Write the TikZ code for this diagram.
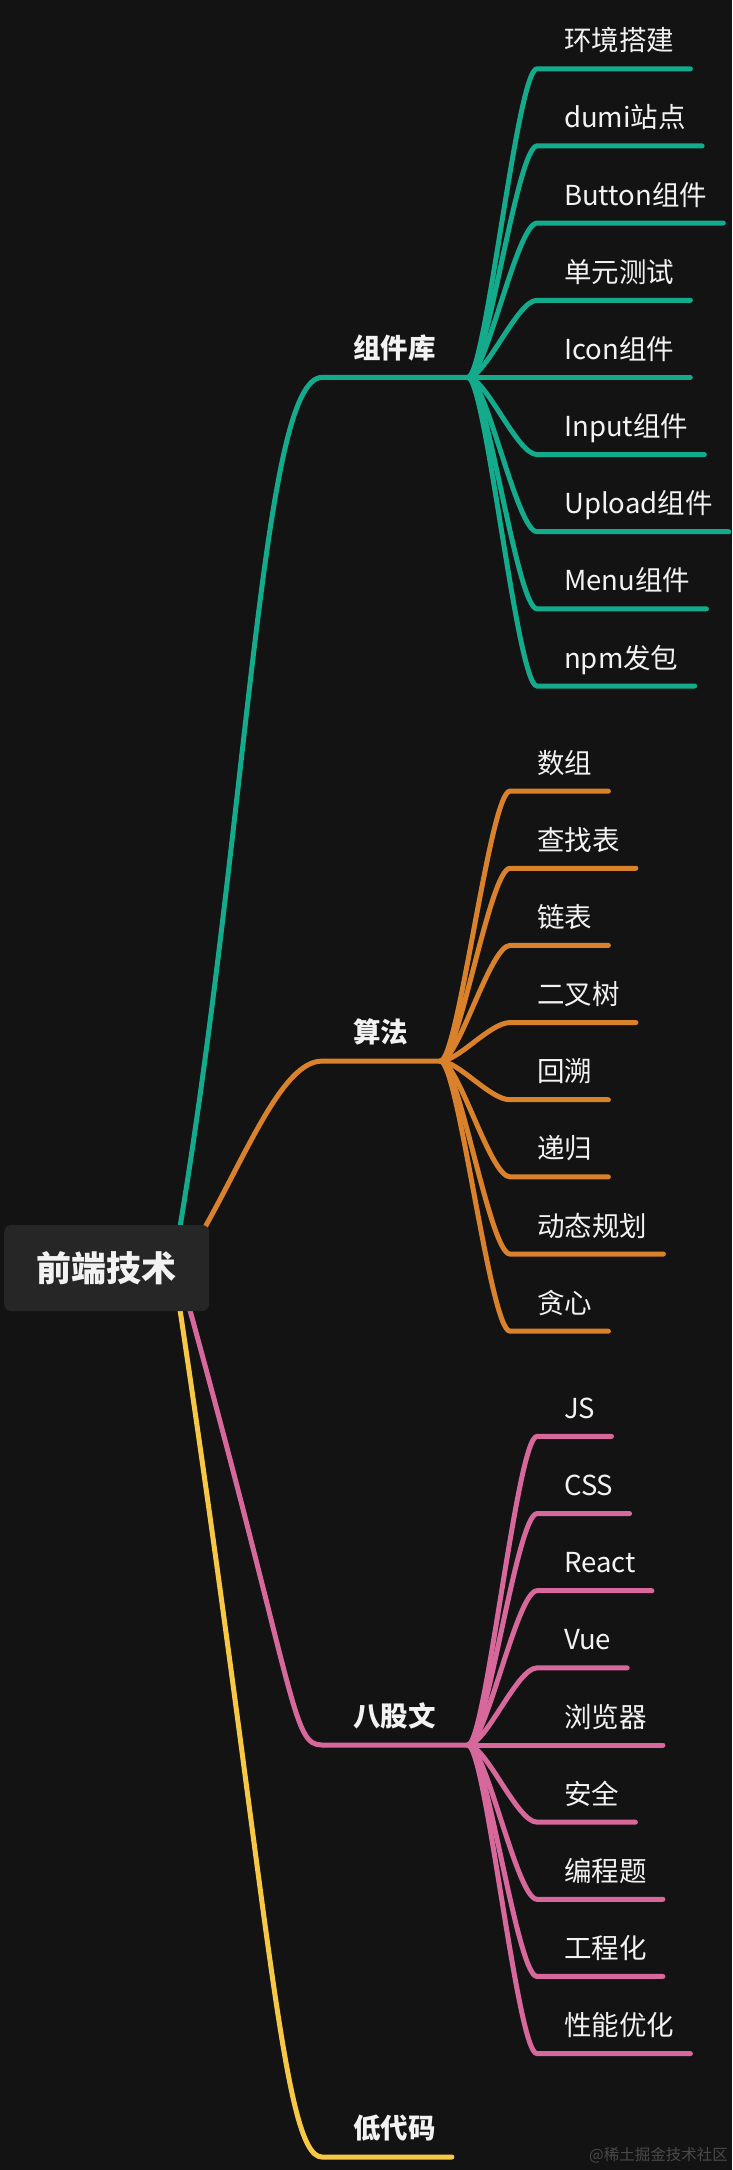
\documentclass[tikz,border=0pt]{standalone}
\usepackage{fontspec}
\setmainfont{Noto Sans CJK SC}
\usetikzlibrary{calc}
\definecolor{bgc}{HTML}{131313}
\definecolor{rootc}{HTML}{262626}
\definecolor{tealc}{HTML}{14AA8C}
\definecolor{orangec}{HTML}{D9822B}
\definecolor{pinkc}{HTML}{D6689B}
\definecolor{yellowc}{HTML}{F7C746}
\definecolor{txtc}{HTML}{F2F2F2}
\definecolor{markc}{HTML}{4A4A4A}
\pgfdeclarelayer{bglayer}
\pgfdeclarelayer{edgelayer}
\pgfsetlayers{bglayer,edgelayer,main}
\tikzset{
  leaf/.style={anchor=base west, inner sep=0pt, text=txtc, font=\fontsize{27.5}{30}\selectfont},
  topic/.style={anchor=base west, inner sep=0pt, text=txtc, font=\fontsize{27.5}{30}\selectfont\bfseries},
  rootbox/.style={fill=rootc, rounded corners=7pt, minimum width=205pt, minimum height=86pt,
    inner sep=0pt, text=txtc, font=\fontsize{35}{40}\selectfont\bfseries},
  branch/.style={line width=5pt, line cap=round},
  markstyle/.style={anchor=base west, inner sep=0pt, text=markc, font=\fontsize{15.5}{16}\selectfont},
}
\begin{document}
\begin{tikzpicture}[x=1pt,y=-1pt]
\begin{pgfonlayer}{bglayer}
  \fill[bgc] (0,0) rectangle (732,2170);
\end{pgfonlayer}
\useasboundingbox (0,0) rectangle (732,2170);

% root
\node[rootbox] (root) at (106.7,1268) {前端技术};
\coordinate (root-t) at (179,1233);
\coordinate (root-o) at (200,1236);
\coordinate (root-p) at (188,1303);
\coordinate (root-y) at (179,1303);

% main topics
\node[topic] (zjk) at (353,358.4) {组件库};
\coordinate (zjk-c) at (322,377.4);
\coordinate (zjk-j) at ($(zjk.base east)+(32,19)$);

\node[topic] (sf) at (353,1042.1) {算法};
\coordinate (sf-c) at (322,1061.1);
\coordinate (sf-j) at ($(sf.base east)+(32,19)$);

\node[topic] (bgw) at (353,1726) {八股文};
\coordinate (bgw-c) at (322,1745);
\coordinate (bgw-j) at ($(bgw.base east)+(32,19)$);

\node[topic] (ddm) at (353,2138) {低代码};
\coordinate (ddm-c) at (322,2157);
\coordinate (ddm-e) at ($(ddm.base east)+(16,19)$);

\begin{pgfonlayer}{edgelayer}
  \draw[branch,tealc] (root-t) .. controls +(70,-420) and +(-60,0) .. (zjk-c) -- (zjk-j);
  \draw[branch,orangec] (root-o) .. controls +(46,-80) and +(-40,0) .. (sf-c) -- (sf-j);
  \draw[branch,pinkc] (root-p) .. controls +(110,400) and +(-30,0) .. (bgw-c) -- (bgw-j);
  \draw[branch,yellowc] (root-y) .. controls +(90,600) and +(-40,0) .. (ddm-c) -- (ddm-e);
\end{pgfonlayer}

% teal children
\foreach \t [count=\i] in {环境搭建,dumi站点,Button组件,单元测试,Icon组件,Input组件,Upload组件,Menu组件,npm发包}{
  \pgfmathsetmacro{\yy}{377.4+77.15*(\i-5)}
  \node[leaf] (zc\i) at (564,\yy-18) {\t};
  \coordinate (zc\i-c) at (537,\yy);
  \coordinate (zc\i-e) at ($(zc\i.base east)+(16,18)$);
  \begin{pgfonlayer}{edgelayer}
    \draw[branch,tealc] (zjk-j) .. controls +(18,0) and +(-20,0) .. (zc\i-c) -- (zc\i-e);
  \end{pgfonlayer}
}

% orange children
\foreach \t [count=\i] in {数组,查找表,链表,二叉树,回溯,递归,动态规划,贪心}{
  \pgfmathsetmacro{\yy}{1061.15+77.15*(\i-4.5)}
  \node[leaf] (sc\i) at (537,\yy-18) {\t};
  \coordinate (sc\i-c) at (510,\yy);
  \coordinate (sc\i-e) at ($(sc\i.base east)+(16,18)$);
  \begin{pgfonlayer}{edgelayer}
    \draw[branch,orangec] (sf-j) .. controls +(18,0) and +(-20,0) .. (sc\i-c) -- (sc\i-e);
  \end{pgfonlayer}
}

% pink children
\foreach \t [count=\i] in {JS,CSS,React,Vue,浏览器,安全,编程题,工程化,性能优化}{
  \pgfmathsetmacro{\yy}{1745+77.15*(\i-5)}
  \node[leaf] (bc\i) at (564,\yy-18) {\t};
  \coordinate (bc\i-c) at (537,\yy);
  \coordinate (bc\i-e) at ($(bc\i.base east)+(16,18)$);
  \begin{pgfonlayer}{edgelayer}
    \draw[branch,pinkc] (bgw-j) .. controls +(18,0) and +(-20,0) .. (bc\i-c) -- (bc\i-e);
  \end{pgfonlayer}
}

% watermark
\node[markstyle] (wm) at (589,2160) {@稀土掘金技术社区};
\end{tikzpicture}
\end{document}
